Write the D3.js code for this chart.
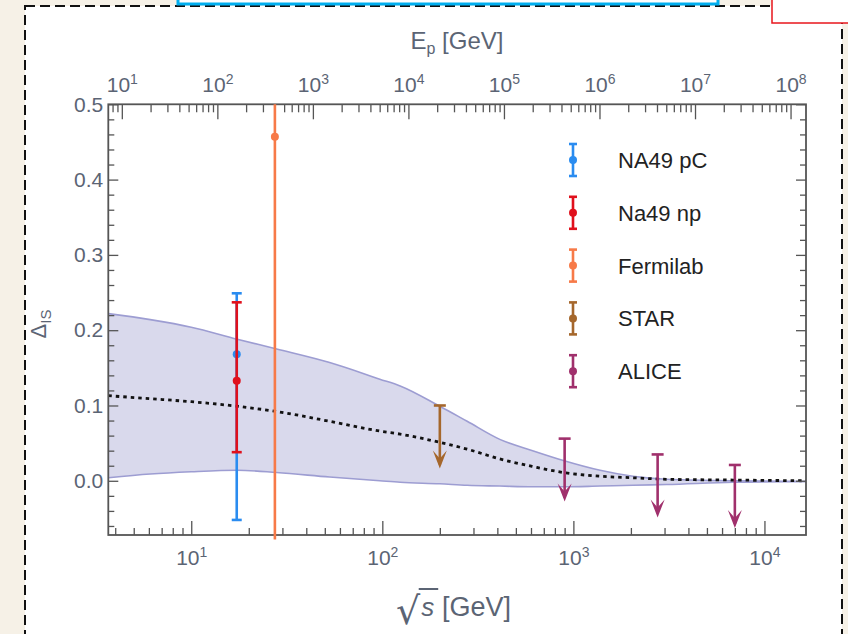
<!DOCTYPE html>
<html>
<head>
<meta charset="utf-8">
<title>Delta IS</title>
<style>
body { margin: 0; background: #f6f1e7; }
svg { display: block; }
</style>
</head>
<body>
<svg width="848" height="634"></svg>
<script src="https://cdn.jsdelivr.net/npm/d3@7"></script>
<script>
// theory band: sqrt(s) [GeV], lower edge, central (dotted) and upper edge
var bandSqrtS = [3.68, 6.1, 10, 17.4, 28, 53, 97, 124, 200, 278, 412, 612, 886, 1380, 2050, 3070, 6860, 16500];
var bandLower = [0.004, 0.009, 0.012, 0.014, 0.011, 0.005, 0.0, -0.002, -0.004, -0.006, -0.007, -0.008, -0.008, -0.007, -0.006, -0.005, -0.002, -0.001];
var bandCentral = [0.113, 0.109, 0.105, 0.099, 0.092, 0.079, 0.066, 0.062, 0.051, 0.042, 0.029, 0.019, 0.011, 0.006, 0.004, 0.002, 0.001, 0.0];
var bandUpper = [0.222, 0.214, 0.204, 0.188, 0.175, 0.157, 0.135, 0.126, 0.099, 0.079, 0.055, 0.040, 0.027, 0.014, 0.006, 0.002, 0.0, -0.001];

// experiments
var expNames = ['NA49 pC', 'Na49 np', 'Fermilab', 'STAR', 'ALICE'];
var expColors = ['#2a8cf0', '#e0101c', '#f77a48', '#a5672c', '#a0306c'];

// measured points with error bars
var pointExp = [0, 1, 2];
var pointSqrtS = [17.3, 17.3, 27.4];
var pointValue = [0.168, 0.133, 0.457];
var pointLow = [-0.052, 0.038, -0.078];
var pointHigh = [0.249, 0.237, 0.5];

// upper limits
var limitExp = [3, 4, 4, 4];
var limitSqrtS = [200, 900, 2760, 7000];
var limitValue = [0.1, 0.056, 0.035, 0.021];

// ticks
var xTickPowers = [1, 2, 3, 4];
var topTickPowers = [1, 2, 3, 4, 5, 6, 7, 8];
var yTicks = [0.0, 0.1, 0.2, 0.3, 0.4, 0.5];
var yTickLabels = ['0.0', '0.1', '0.2', '0.3', '0.4', '0.5'];

var font = '"Liberation Sans", Arial, Helvetica, sans-serif';
var labelColor = '#5b6474';

var svg = d3.select('svg');

// page frame around the figure
svg.append('rect').attr('x', 25).attr('y', 6).attr('width', 817).attr('height', 640)
    .attr('fill', '#fff').attr('stroke', '#111').attr('stroke-width', 2).attr('stroke-dasharray', '10,5');
svg.append('rect').attr('x', 178).attr('y', -6).attr('width', 540).attr('height', 10)
    .attr('fill', '#fff').attr('stroke', '#00aeef').attr('stroke-width', 3);
svg.append('rect').attr('x', 772).attr('y', -3).attr('width', 80).attr('height', 26)
    .attr('fill', '#fff').attr('stroke', '#e8161c').attr('stroke-width', 1.5);

var x = d3.scaleLog().domain([3.68, 16500]).range([108.3, 806]);
var y = d3.scaleLinear().domain([-0.072, 0.5]).range([535, 104.3]);
var mp = 0.938;
function toEp(rs) { return rs * rs / (2 * mp); }
var xTop = d3.scaleLog().domain(x.domain().map(toEp)).range(x.range());

var pL = x.range()[0], pR = x.range()[1], pT = y.range()[1], pB = y.range()[0];

svg.append('clipPath').attr('id', 'clip').append('rect')
    .attr('x', pL).attr('y', pT).attr('width', pR - pL).attr('height', pB - pT);

// band
var band = bandSqrtS.map(function(s, i) { return {s: s, lo: bandLower[i], c: bandCentral[i], hi: bandUpper[i]}; });
var plot = svg.append('g').attr('clip-path', 'url(#clip)');
plot.append('path').datum(band)
    .attr('d', d3.area().curve(d3.curveMonotoneX)
        .x(function(d) { return x(d.s); })
        .y0(function(d) { return y(d.lo); })
        .y1(function(d) { return y(d.hi); }))
    .attr('fill', '#d9d9ec');
[bandLower, bandUpper].forEach(function(arr) {
    plot.append('path').datum(band)
        .attr('d', d3.line().curve(d3.curveMonotoneX)
            .x(function(d) { return x(d.s); })
            .y(function(d, i) { return y(arr[i]); }))
        .attr('fill', 'none').attr('stroke', '#9d9dd2').attr('stroke-width', 1.6);
});
plot.append('path').datum(band)
    .attr('d', d3.line().curve(d3.curveMonotoneX)
        .x(function(d) { return x(d.s); })
        .y(function(d) { return y(d.c); }))
    .attr('fill', 'none').attr('stroke', '#111').attr('stroke-width', 2.8).attr('stroke-dasharray', '3.5,4');

// axes
function minorLog(scale) {
    var d = scale.domain(), out = [];
    for (var k = Math.floor(Math.log10(d[0])); k <= Math.ceil(Math.log10(d[1])); k++) {
        for (var m = 2; m <= 9; m++) {
            var v = m * Math.pow(10, k);
            if (v >= d[0] && v <= d[1]) out.push(v);
        }
    }
    return out;
}
function powLabels(g) {
    g.selectAll('.tick text').each(function(d) {
        var t = d3.select(this);
        t.text('10');
        t.append('tspan').attr('dy', -8).attr('font-size', 14).text(Math.round(Math.log10(d)));
    });
}
function styleAxis(g) {
    g.attr('font-family', font).attr('font-size', 21).attr('color', '#555');
    g.select('.domain').remove();
    g.selectAll('.tick line').attr('stroke-width', 1.3);
    g.selectAll('.tick text').attr('fill', labelColor);
}

var xMinor = d3.axisBottom(x).tickValues(minorLog(x)).tickSize(-7).tickFormat('');
var xMajor = d3.axisBottom(x).tickValues(xTickPowers.map(function(k) { return Math.pow(10, k); }))
    .tickSize(-14).tickPadding(15).tickFormat('');
svg.append('g').attr('transform', 'translate(0,' + pB + ')').call(xMinor).call(styleAxis);
svg.append('g').attr('transform', 'translate(0,' + pB + ')').call(xMajor).call(styleAxis).call(powLabels);

var tMinor = d3.axisTop(xTop).tickValues(minorLog(xTop)).tickSize(-8).tickFormat('');
var tMajor = d3.axisTop(xTop).tickValues(topTickPowers.map(function(k) { return Math.pow(10, k); }))
    .tickSize(-15).tickPadding(12).tickFormat('');
svg.append('g').attr('transform', 'translate(0,' + pT + ')').call(tMinor).call(styleAxis);
svg.append('g').attr('transform', 'translate(0,' + pT + ')').call(tMajor).call(styleAxis).call(powLabels);

var yMinorVals = d3.range(-3, 25).map(function(i) { return i * 0.02; })
    .filter(function(v) { return v > y.domain()[0] && Math.abs(v * 10 - Math.round(v * 10)) > 1e-6; });
svg.append('g').attr('transform', 'translate(' + pL + ',0)')
    .call(d3.axisLeft(y).tickValues(yMinorVals).tickSize(-6).tickFormat('')).call(styleAxis);
svg.append('g').attr('transform', 'translate(' + pL + ',0)')
    .call(d3.axisLeft(y).tickValues(yTicks).tickSize(-10).tickPadding(5)
        .tickFormat(function(d, i) { return yTickLabels[i]; })).call(styleAxis);
svg.append('g').attr('transform', 'translate(' + pR + ',0)')
    .call(d3.axisRight(y).tickValues(yMinorVals).tickSize(-6).tickFormat('')).call(styleAxis);
svg.append('g').attr('transform', 'translate(' + pR + ',0)')
    .call(d3.axisRight(y).tickValues(yTicks).tickSize(-10).tickFormat('')).call(styleAxis);

svg.append('rect').attr('x', pL).attr('y', pT).attr('width', pR - pL).attr('height', pB - pT)
    .attr('fill', 'none').attr('stroke', '#555').attr('stroke-width', 1.8);

// error bars
var cap = 5;
var pts = svg.append('g').selectAll('g').data(pointSqrtS).enter().append('g');
pts.each(function(s, i) {
    var g = d3.select(this), col = expColors[pointExp[i]], cx = x(s);
    g.append('line').attr('x1', cx).attr('x2', cx).attr('y1', y(pointLow[i])).attr('y2', y(pointHigh[i]))
        .attr('stroke', col).attr('stroke-width', 2.6);
    [pointLow[i], pointHigh[i]].forEach(function(v) {
        if (v > y.domain()[0] && v < y.domain()[1]) {
            g.append('line').attr('x1', cx - cap).attr('x2', cx + cap).attr('y1', y(v)).attr('y2', y(v))
                .attr('stroke', col).attr('stroke-width', 2.6);
        }
    });
    g.append('circle').attr('cx', cx).attr('cy', y(pointValue[i])).attr('r', 4).attr('fill', col);
});

// upper limit arrows
var arrowLen = 63;
svg.append('g').selectAll('g').data(limitSqrtS).enter().append('g').each(function(s, i) {
    var g = d3.select(this), col = expColors[limitExp[i]], cx = x(s), cy = y(limitValue[i]);
    g.append('line').attr('x1', cx - 6).attr('x2', cx + 6).attr('y1', cy).attr('y2', cy)
        .attr('stroke', col).attr('stroke-width', 2.6);
    g.append('line').attr('x1', cx).attr('x2', cx).attr('y1', cy).attr('y2', cy + arrowLen - 4)
        .attr('stroke', col).attr('stroke-width', 2.6);
    g.append('path')
        .attr('d', 'M' + cx + ',' + (cy + arrowLen) + 'L' + (cx - 7) + ',' + (cy + arrowLen - 18) +
            'L' + cx + ',' + (cy + arrowLen - 10) + 'L' + (cx + 7) + ',' + (cy + arrowLen - 18) + 'Z')
        .attr('fill', col);
});

// legend
var legend = svg.append('g').selectAll('g').data(expNames).enter().append('g')
    .attr('transform', function(d, i) { return 'translate(573,' + (160 + i * 52.8) + ')'; });
legend.each(function(name, i) {
    var g = d3.select(this), col = expColors[i];
    g.append('line').attr('y1', -16).attr('y2', 16).attr('stroke', col).attr('stroke-width', 2.6);
    g.append('line').attr('x1', -4).attr('x2', 4).attr('y1', -16).attr('y2', -16).attr('stroke', col).attr('stroke-width', 2.6);
    g.append('line').attr('x1', -4).attr('x2', 4).attr('y1', 16).attr('y2', 16).attr('stroke', col).attr('stroke-width', 2.6);
    g.append('circle').attr('r', 4).attr('fill', col);
    g.append('text').attr('x', 45).attr('dy', '0.36em').attr('font-family', font).attr('font-size', 22)
        .attr('fill', '#222').text(name);
});

// axis titles
var tTop = svg.append('text').attr('x', 457).attr('y', 49).attr('text-anchor', 'middle')
    .attr('font-family', font).attr('font-size', 24).attr('fill', labelColor);
tTop.append('tspan').text('E');
tTop.append('tspan').attr('font-size', 16).attr('dy', 5).text('p');
tTop.append('tspan').attr('dy', -5).text(' [GeV]');

var tY = svg.append('text').attr('transform', 'translate(46,324) rotate(-90)').attr('text-anchor', 'middle')
    .attr('font-family', font).attr('font-size', 22).attr('fill', labelColor);
tY.append('tspan').text('\u0394');
tY.append('tspan').attr('font-size', 15).attr('dy', 5).text('IS');

var rx = 396;
var rad = svg.append('text').attr('x', rx).attr('y', 624).attr('font-family', '"DejaVu Sans", sans-serif')
    .attr('font-size', 38).attr('fill', labelColor).text('\u221A');
var rw = rad.node().getComputedTextLength();
var sTxt = svg.append('text').attr('x', rx + rw + 1).attr('y', 616).attr('font-family', font)
    .attr('font-size', 26).attr('font-style', 'italic').attr('fill', labelColor).text('s');
var sw = sTxt.node().getComputedTextLength();
svg.append('line').attr('x1', rx + rw - 1.5).attr('x2', rx + rw + sw + 5).attr('y1', 589).attr('y2', 589)
    .attr('stroke', labelColor).attr('stroke-width', 2);
svg.append('text').attr('x', 442).attr('y', 616).attr('font-family', font).attr('font-size', 27)
    .attr('fill', labelColor).text('[GeV]');
</script>
</body>
</html>
